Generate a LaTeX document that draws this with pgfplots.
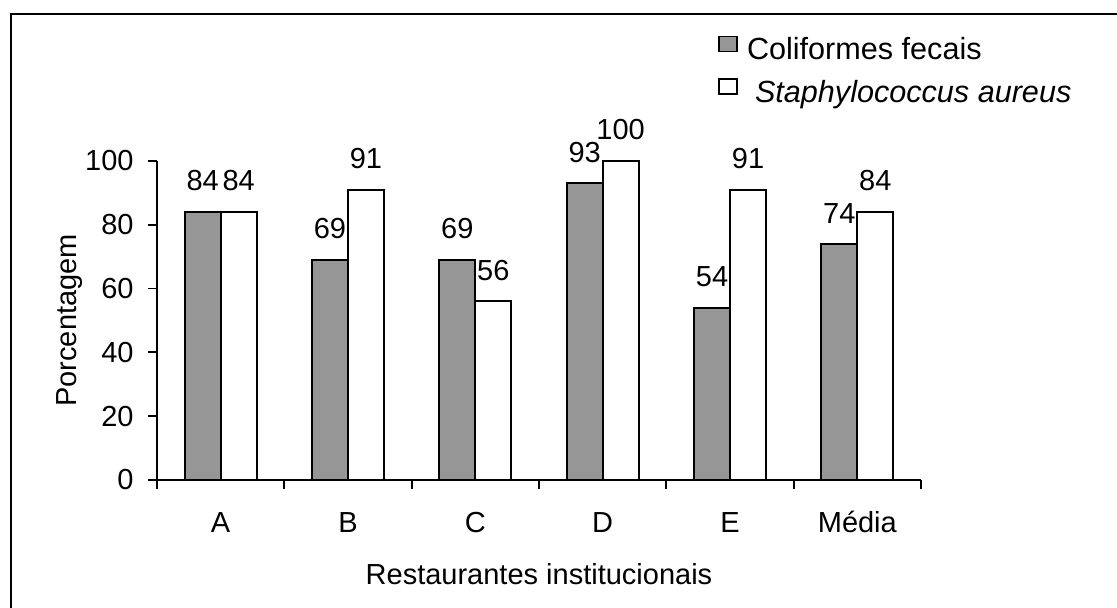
\documentclass[border=0pt]{standalone}
\usepackage{pgfplots}
\pgfplotsset{compat=1.18}
\usepackage{fontspec}
\setmainfont{Liberation Sans}
\definecolor{barGray}{RGB}{150,150,150}
\begin{document}
\fontsize{14.5}{17.4}\selectfont
\begin{tikzpicture}
\useasboundingbox (0,0) rectangle (558.5pt,304pt);
\draw[line width=1pt] (5.5pt,0) -- (5.5pt,297pt) -- (558.5pt,297pt);
\begin{axis}[
  at={(78.5pt,64pt)}, anchor=south west,
  scale only axis, width=382pt, height=159.5pt,
  xmin=-0.5, xmax=5.5, ymin=0, ymax=100,
  axis lines=left, axis line style={-, line width=0.9pt},
  clip=false,
  ybar=0pt, bar width=18pt,
  xtick={0,...,5}, xticklabels={A,B,C,D,E,Média},
  minor xtick={-0.5,0.5,...,5.5},
  major x tick style={draw=none},
  ytick={0,20,...,100},
  tick align=outside,
  major tick length=4.5pt, minor tick length=4.5pt,
  tick style={black, line width=0.9pt},
  /pgf/number format/assume math mode=true,
  every x tick label/.append style={anchor=base, inner sep=0pt, yshift=-22pt},
  every y tick label/.append style={anchor=east, inner sep=0pt, xshift=-7pt},
  xlabel={Restaurantes institucionais},
  ylabel={Porcentagem},
  every axis x label/.style={at={(axis description cs:0.5,-0.329)}, anchor=base},
  every axis y label/.style={at={(axis description cs:-0.106,0.5)}, rotate=90, anchor=base},
  nodes near coords,
  every node near coord/.append style={anchor=south, inner sep=0pt, yshift=10pt, black},
  legend style={at={(axis description cs:0.7343,1.3937)}, anchor=north west, draw=none, fill=none, inner sep=0pt,
    row sep=7pt, nodes={inner sep=0pt}, font=\fontsize{15.3}{18}\selectfont},
  legend cell align=left,
]
\addplot[fill=barGray, draw=black, line width=0.9pt,
  legend image code/.code={\draw[fill=barGray, draw=black, line width=0.7pt] (0pt,-0.3pt) rectangle (9pt,7.2pt); \path (13.5pt,0pt);}]
  coordinates {(0,84) (1,69) (2,69) (3,93) (4,54) (5,74)};
\addlegendentry{Coliformes fecais\rule[-2pt]{0pt}{2pt}}
\addplot[fill=white, draw=black, line width=0.9pt,
  legend image code/.code={\draw[fill=white, draw=black, line width=0.7pt] (0pt,-0.3pt) rectangle (9pt,7.2pt); \path (13.5pt,0pt);}]
  coordinates {(0,84) (1,91) (2,56) (3,100) (4,91) (5,84)};
\addlegendentry{\hspace{4pt}\textit{Staphylococcus aureus}}
\end{axis}
\end{tikzpicture}
\end{document}
